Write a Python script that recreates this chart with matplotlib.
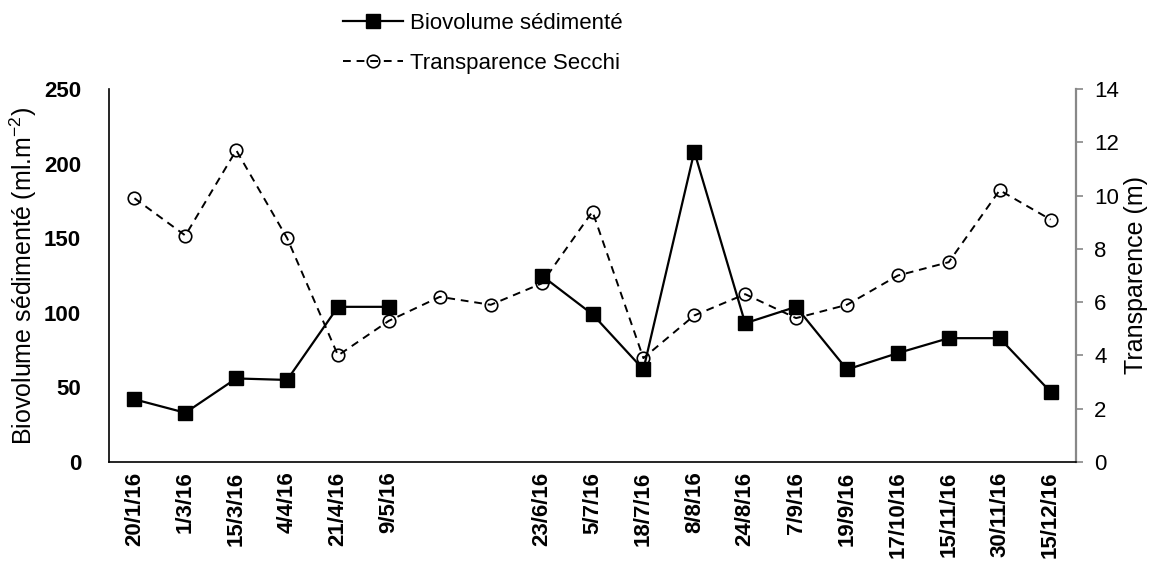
import matplotlib.pyplot as plt
import numpy as np

plt.rcParams['font.family'] = ['Liberation Sans', 'DejaVu Sans']

dates = ['20/1/16', '1/3/16', '15/3/16', '4/4/16', '21/4/16', '9/5/16', '', '',
         '23/6/16', '5/7/16', '18/7/16', '8/8/16', '24/8/16', '7/9/16',
         '19/9/16', '17/10/16', '15/11/16', '30/11/16', '15/12/16']
biovolume = [42, 33, 56, 55, 104, 104, np.nan, np.nan,
             125, 99, 62, 208, 93, 104, 62, 73, 83, 83, 47]
secchi = [9.9, 8.5, 11.7, 8.4, 4.0, 5.3, 6.2, 5.9,
          6.7, 9.4, 3.9, 5.5, 6.3, 5.4, 5.9, 7.0, 7.5, 10.2, 9.1]

x = np.arange(len(dates))

fig = plt.figure(figsize=(11.7, 5.7), dpi=100)
ax = fig.add_axes([109/1170, 1 - 462/570, 967/1170, 373/570])
ax2 = ax.twinx()

l1, = ax.plot(x, biovolume, color='black', lw=1.6, marker='s', ms=10,
              label='Biovolume sédimenté', zorder=3)
l2, = ax2.plot(x, secchi, color='black', lw=1.4, ls=(0, (4, 3)), marker='o',
               ms=9, mfc='none', mew=1.2, label='Transparence Secchi')
ax.set_zorder(2)
ax.patch.set_visible(False)

ax.set_xlim(-0.5, len(dates) - 0.5)
ax.set_ylim(0, 250)
ax.set_yticks(np.arange(0, 251, 50))
ax2.set_ylim(0, 14)
ax2.set_yticks(np.arange(0, 15, 2))

ax.set_xticks(x)
ax.set_xticklabels(dates, rotation=90, fontweight='bold', fontsize=16)
ax.tick_params(axis='x', length=0, pad=7)
ax.tick_params(axis='y', length=0, pad=20, labelsize=16)
for t in ax.get_yticklabels():
    t.set_fontweight('bold')

ax2.tick_params(axis='y', colors='#888888', labelcolor='black', length=5,
                width=1.2, labelsize=16, pad=8)

for s in ['top', 'right']:
    ax.spines[s].set_visible(False)
ax.spines['left'].set_linewidth(1.2)
ax.spines['bottom'].set_linewidth(1.2)
ax2.spines['top'].set_visible(False)
ax2.spines['left'].set_visible(False)
ax2.spines['bottom'].set_visible(False)
ax2.spines['right'].set_color('#888888')
ax2.spines['right'].set_linewidth(1.6)

ax.set_ylabel(r'Biovolume sédimenté (ml.m$^{\mathregular{-2}}$)', fontsize=18, labelpad=4)
ax2.set_ylabel('Transparence (m)', fontsize=18, labelpad=4)

fig.legend([l1, l2], ['Biovolume sédimenté', 'Transparence Secchi'],
           loc='upper left', bbox_to_anchor=(323/1170, 1.012), frameon=False,
           fontsize=16, handlelength=2.7, labelspacing=0.85, handletextpad=0.3)

fig.savefig('out.png', dpi=100)
